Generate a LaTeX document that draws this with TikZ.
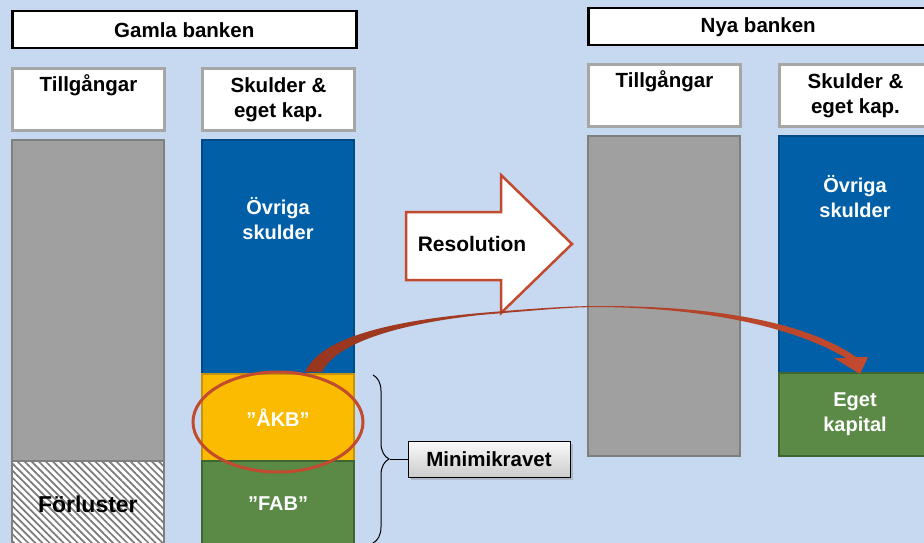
\documentclass[tikz,border=0pt]{standalone}
\usepackage{fontspec}
\setmainfont{Liberation Sans}
\usetikzlibrary{positioning,shadows,patterns.meta,decorations.pathreplacing}

\definecolor{bgblue}{HTML}{C6D9F0}
\definecolor{headgray}{HTML}{A6A6A6}
\definecolor{colgray}{HTML}{A0A0A0}
\definecolor{colgrayd}{HTML}{7F7F7F}
\definecolor{debtblue}{HTML}{005FA6}
\definecolor{debtblued}{HTML}{004A85}
\definecolor{akbyellow}{HTML}{FBBB00}
\definecolor{akbyellowd}{HTML}{C8930A}
\definecolor{fabgreen}{HTML}{5A8A46}
\definecolor{fabgreend}{HTML}{3F6630}
\definecolor{resred}{HTML}{C24A2E}
\definecolor{swdark}{HTML}{98361F}
\definecolor{hatchgray}{HTML}{7A7A7A}

\begin{document}
\begin{tikzpicture}[x=1pt, y=-1pt,
  bank/.style={draw=black, line width=2.5pt, fill=white, anchor=north west, inner sep=0pt,
    minimum height=37pt, font=\fontsize{20.5}{24}\selectfont\bfseries},
  head/.style={draw=headgray, line width=3pt, fill=white, anchor=north west, inner sep=0pt,
    minimum width=152pt, minimum height=62pt, align=center,
    font=\fontsize{20.5}{25}\selectfont\bfseries},
  col/.style={line width=2pt, anchor=north west, inner sep=0pt, minimum width=152pt,
    align=center, text=white, font=\fontsize{20}{25}\selectfont\bfseries},
  wtext/.style={align=center, text=white, inner sep=0pt, font=\fontsize{20}{25}\selectfont\bfseries},
  minbox/.style={draw=black, line width=1pt, top color=gray!4, bottom color=gray!40,
    minimum width=162pt, minimum height=36pt, inner sep=0pt, drop shadow={opacity=0.35},
    font=\fontsize{20.5}{24}\selectfont\bfseries}]

  % background
  \clip (0,0) rectangle (924,543);
  \fill[bgblue] (0,0) rectangle (924,543);

  % Gamla banken
  \node[bank, minimum width=344pt] (oldbank) at (11,10) {Gamla banken};
  \node[head] (oldassetshead) at (11,67) {Tillgångar\\ \strut};
  \node[head] (olddebthead) at (201,67) {Skulder \&\\eget kap.};
  \node[col, fill=colgray, draw=colgrayd, minimum height=321pt] (oldassets) at (11,139) {};
  \node[col, text=black, draw=colgrayd, minimum height=86pt,
    preaction={fill=white}, pattern={Lines[angle=-45,distance=5pt,line width=1.7pt]},
    pattern color=hatchgray, font=\fontsize{23}{25}\selectfont\bfseries] (losses) at (11,460) {Förluster};
  \node[col, fill=debtblue, draw=debtblued, minimum height=234pt] (olddebt) at (201,139) {};
  \node[wtext, below=58pt of olddebt.north] (olddebttxt) {Övriga\\skulder};
  \node[col, fill=akbyellow, draw=akbyellowd, minimum height=87pt] (akb) at (201,373) {”ÅKB”};
  \node[col, fill=fabgreen, draw=fabgreend, minimum height=86pt] (fab) at (201,460) {”FAB”};

  % Nya banken
  \node[bank, minimum width=350pt] (newbank) at (587,7) {\hspace*{-10pt}Nya banken};
  \node[head] (newassetshead) at (587,63) {Tillgångar\\ \strut};
  \node[head] (newdebthead) at (778,63) {Skulder \&\\eget kap.};
  \node[col, fill=colgray, draw=colgrayd, minimum height=320pt] (newassets) at (587,135) {};
  \node[col, fill=debtblue, draw=debtblued, minimum height=237pt] (newdebt) at (778,135) {};
  \node[wtext, below=40pt of newdebt.north] (newdebttxt) {Övriga\\skulder};
  \node[col, fill=fabgreen, draw=fabgreend, minimum height=83pt] (equity) at (778,372) {Eget\\kapital};

  % Resolution arrow
  \draw[resred, line width=2.5pt, fill=white] (406,212) -- (501,212) -- (501,175) -- (572,244)
    -- (501,313) -- (501,280) -- (406,280) -- cycle;
  \node[font=\fontsize{21}{24}\selectfont\bfseries] (restxt) at (472,244) {Resolution};

  % Minimikravet
  \coordinate (bracetop) at (373,375);
  \coordinate (bracebot) at (373,543);
  \coordinate (bracetip) at (390,459);
  \draw[line width=1pt, decorate, decoration={brace, amplitude=16pt}] (bracetop) -- (bracebot);
  \node[minbox] (minreq) at (489,459) {Minimikravet};
  \draw[line width=1pt] (bracetip) -- (minreq.west);

  % ring round AKB
  \draw[resred, line width=3pt] (278,422) ellipse [x radius=85, y radius=50];

  % swoosh AKB -> eget kapital
  \shade[left color=swdark, right color=resred]
    (305,372) .. controls (320,340) and (380,322) .. (480,313)
    .. controls (540,308) and (570,306) .. (600,306)
    .. controls (700,306) and (800,318) .. (856,357)
    -- (868,357) -- (860,374) -- (834,358) -- (846,358)
    .. controls (790,325) and (700,308) .. (600,307)
    .. controls (570,307) and (540,310) .. (480,315)
    .. controls (390,325) and (335,345) .. (322,372) -- cycle;
\end{tikzpicture}
\end{document}
